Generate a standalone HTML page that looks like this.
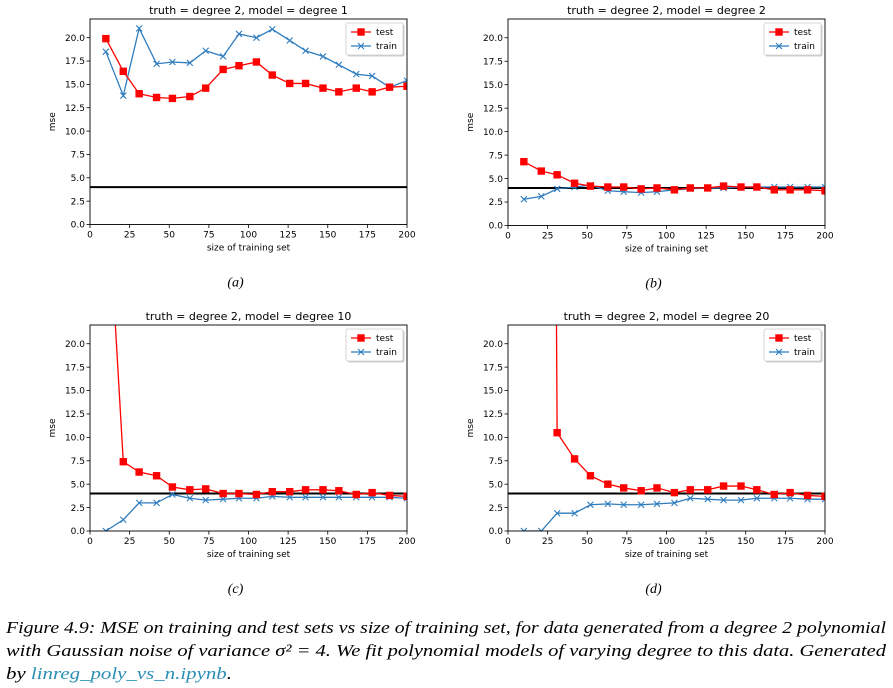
<!DOCTYPE html>
<html><head><meta charset="utf-8"><style>
body{margin:0;background:#fff;width:893px;height:688px;overflow:hidden}
svg{display:block;font-family:"DejaVu Sans","Liberation Sans",sans-serif}
.cap{font-family:"Liberation Serif",serif;font-style:italic;font-size:17px}
</style></head><body>
<svg id="fig" width="893" height="688" viewBox="0 0 893 688">
<text class="cap" x="6" y="633" textLength="880" lengthAdjust="spacingAndGlyphs">Figure 4.9: MSE on training and test sets vs size of training set, for data generated from a degree 2 polynomial</text>
<text class="cap" x="6" y="656" textLength="880" lengthAdjust="spacingAndGlyphs">with Gaussian noise of variance σ² = 4. We fit polynomial models of varying degree to this data. Generated</text>
<text class="cap" x="6" y="679" textLength="226" lengthAdjust="spacingAndGlyphs">by <tspan fill="#2a8fb5">linreg_poly_vs_n.ipynb</tspan>.</text>
</svg>
<script>
const xs=[10,21,31,42,52,63,73,84,94,105,115,126,136,147,157,168,178,189,200];
const titles=["truth = degree 2, model = degree 1","truth = degree 2, model = degree 2","truth = degree 2, model = degree 10","truth = degree 2, model = degree 20"];
const subLabels=["(a)","(b)","(c)","(d)"];
const testA=[19.9,16.4,14.0,13.6,13.5,13.7,14.6,16.6,17.0,17.4,16.0,15.1,15.1,14.6,14.2,14.6,14.2,14.7,14.8];
const trainA=[18.5,13.8,21.0,17.2,17.4,17.3,18.6,18.0,20.4,20.0,20.9,19.7,18.6,18.0,17.1,16.1,15.9,14.7,15.4];
const testB=[6.8,5.8,5.4,4.5,4.2,4.1,4.1,3.9,4.0,3.8,4.0,4.0,4.2,4.1,4.1,3.8,3.8,3.8,3.7];
const trainB=[2.8,3.1,3.9,4.1,4.3,3.7,3.6,3.5,3.6,3.8,3.9,4.0,4.0,4.1,4.1,4.1,4.1,4.1,4.1];
const testC=[39.5,7.4,6.3,5.9,4.7,4.4,4.5,4.0,4.0,3.9,4.2,4.2,4.4,4.4,4.3,3.9,4.1,3.8,3.7];
const trainC=[0.0,1.2,3.0,3.0,3.9,3.5,3.3,3.4,3.5,3.5,3.7,3.6,3.6,3.6,3.6,3.6,3.6,3.6,3.5];
const testD=[500,300,10.5,7.7,5.9,5.0,4.6,4.3,4.6,4.1,4.4,4.4,4.8,4.8,4.4,3.9,4.1,3.8,3.7];
const trainD=[0,0,1.9,1.9,2.8,2.9,2.8,2.8,2.9,3.0,3.5,3.4,3.3,3.3,3.5,3.5,3.5,3.4,3.4];
const noiseLevel=4;
const xTicks=[0,25,50,75,100,125,150,175,200];
const yTicks=[0,2.5,5,7.5,10,12.5,15,17.5,20];
const yTickLabels=["0.0","2.5","5.0","7.5","10.0","12.5","15.0","17.5","20.0"];
const tests=[testA,testB,testC,testD], trains=[trainA,trainB,trainC,trainD];
const NS="http://www.w3.org/2000/svg";
const svg=document.getElementById('fig');
function mk(tag,attrs,parent){const e=document.createElementNS(NS,tag);for(const k in attrs)e.setAttribute(k,attrs[k]);(parent||svg).appendChild(e);return e;}
const boxes=[{l:90,r:407,t:19,b:224.5},{l:508,r:825,t:19,b:225.5},{l:90,r:407,t:325,b:531},{l:508,r:825,t:325,b:531}];
boxes.forEach((B,i)=>{
  const g=mk('g',{});
  
  
  const X=v=>B.l+(v-0)/200*(B.r-B.l);
  const Y=v=>B.b-(v/22)*(B.b-B.t);
  const cid='clip'+i;
  const cp=mk('clipPath',{id:cid},g);mk('rect',{x:B.l,y:B.t,width:B.r-B.l,height:B.b-B.t},cp);
  const t=mk('text',{x:(B.l+B.r)/2,y:B.t-5,'text-anchor':'middle','font-size':11},g);t.textContent=titles[i];
  
  
  xTicks.forEach(v=>{mk('line',{x1:X(v),x2:X(v),y1:B.b,y2:B.b+3.5,stroke:'#000','stroke-width':0.8},g);
    const tt=mk('text',{x:X(v),y:B.b+13,'text-anchor':'middle','font-size':9},g);tt.textContent=v;
    
    });
  yTicks.forEach((v,j)=>{mk('line',{x1:B.l-3.5,x2:B.l,y1:Y(v),y2:Y(v),stroke:'#000','stroke-width':0.8},g);
    const tt=mk('text',{x:B.l-5,y:Y(v)+3.2,'text-anchor':'end','font-size':9},g);tt.textContent=yTickLabels[j];
    
    });
  const xl=mk('text',{x:(B.l+B.r)/2,y:B.b+26,'text-anchor':'middle','font-size':9},g);xl.textContent='size of training set';
  
  
  const yl=mk('text',{x:0,y:0,'text-anchor':'middle','font-size':9,transform:`translate(${B.l-35},${(B.t+B.b)/2}) rotate(-90)`},g);yl.textContent='mse';
  
  
  const pg=mk('g',{'clip-path':`url(#${cid})`},g);
  const hl=mk('line',{x1:B.l,x2:B.r,y1:Y(noiseLevel),y2:Y(noiseLevel),stroke:'#000','stroke-width':2},pg);
  
  
  const tr=trains[i], te=tests[i];
  const trl=mk('polyline',{points:xs.map((x,k)=>X(x)+','+Y(tr[k])).join(' '),fill:'none',stroke:'#2f7dbf','stroke-width':1.3},pg);
  
  
  xs.forEach((x,k)=>{const cx=X(x),cy=Y(tr[k]);
    const m=mk('path',{d:`M${cx-3},${cy-3}L${cx+3},${cy+3}M${cx-3},${cy+3}L${cx+3},${cy-3}`,stroke:'#2f7dbf','stroke-width':1.1},pg);
    
    });
  const tel=mk('polyline',{points:xs.map((x,k)=>X(x)+','+Y(te[k])).join(' '),fill:'none',stroke:'#f00','stroke-width':1.3},pg);
  
  
  xs.forEach((x,k)=>{const m=mk('rect',{x:X(x)-3.7,y:Y(te[k])-3.7,width:7.4,height:7.4,fill:'#f00'},pg);
    
    });
  mk('rect',{x:B.l,y:B.t,width:B.r-B.l,height:B.b-B.t,fill:'none',stroke:'#000','stroke-width':0.9},g);
  const lx=B.r-61,ly=B.t+4;
  const lg=mk('g',{},g);
  
  
  mk('rect',{x:lx+1.5,y:ly+1.5,width:57,height:32,fill:'#ccc',rx:2},lg);
  mk('rect',{x:lx,y:ly,width:57,height:32,fill:'#fff',stroke:'#ccc','stroke-width':0.8,rx:2},lg);
  mk('line',{x1:lx+5,x2:lx+25,y1:ly+9,y2:ly+9,stroke:'#f00','stroke-width':1.3},lg);
  mk('rect',{x:lx+11.3,y:ly+5.3,width:7.4,height:7.4,fill:'#f00'},lg);
  const l1=mk('text',{x:lx+30,y:ly+12,'font-size':9},lg);l1.textContent='test';
  mk('line',{x1:lx+5,x2:lx+25,y1:ly+23,y2:ly+23,stroke:'#2f7dbf','stroke-width':1.3},lg);
  mk('path',{d:`M${lx+12},${ly+20}L${lx+18},${ly+26}M${lx+12},${ly+26}L${lx+18},${ly+20}`,stroke:'#2f7dbf','stroke-width':1.1},lg);
  const l2=mk('text',{x:lx+30,y:ly+26,'font-size':9},lg);l2.textContent='train';
  const sl=mk('text',{x:(B.l+B.r)/2-13,y:B.b+62,'text-anchor':'middle','font-size':14,'font-style':'italic','font-family':'Liberation Serif, serif'},svg);
  sl.textContent=subLabels[i];
  
  
});
</script>
</body></html>
